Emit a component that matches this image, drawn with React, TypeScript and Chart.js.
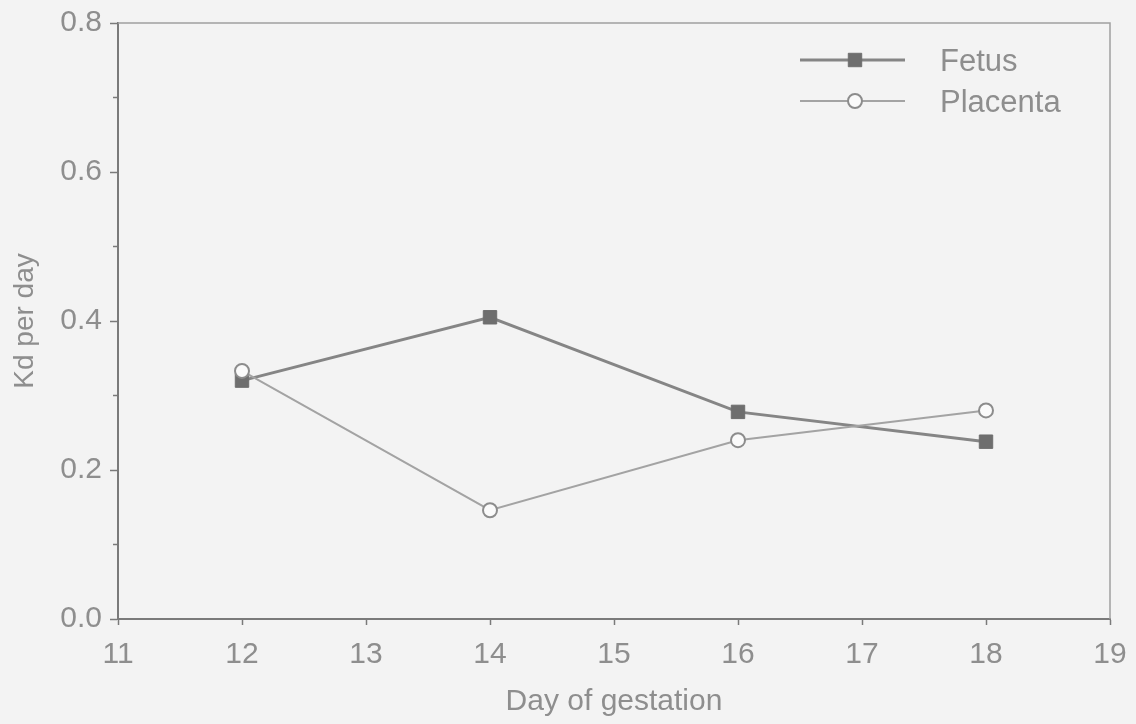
import React, { useEffect, useRef } from "react";
import { Chart, registerables } from "chart.js";

Chart.register(...registerables);

const days = [12, 14, 16, 18];
const fetus = [0.32, 0.405, 0.278, 0.238];
const placenta = [0.333, 0.146, 0.24, 0.28];
const xTicks = [11, 12, 13, 14, 15, 16, 17, 18, 19];
const yMinorTicks = [0.1, 0.3, 0.5, 0.7];
const seriesNames = ["Fetus", "Placenta"];

const FONT = "'Liberation Sans', Arial, Helvetica, sans-serif";
const TEXT = "#8e8e8e";
const AXIS = "#7a7a7a";

const framePlugin = {
  id: "frame",
  beforeDatasetsDraw(chart: any) {
    const { ctx, chartArea } = chart;
    const { left, right, top, bottom } = chartArea;
    ctx.save();
    ctx.strokeStyle = "#a0a0a0";
    ctx.lineWidth = 1.5;
    ctx.beginPath();
    ctx.moveTo(left, top);
    ctx.lineTo(right, top);
    ctx.lineTo(right, bottom);
    ctx.stroke();
    const ys = chart.scales.y;
    ctx.strokeStyle = AXIS;
    ctx.lineWidth = 1.5;
    yMinorTicks.forEach((v) => {
      const y = ys.getPixelForValue(v);
      ctx.beginPath();
      ctx.moveTo(left - 5, y);
      ctx.lineTo(left, y);
      ctx.stroke();
    });
    ctx.restore();
  },
};

const legendPlugin = {
  id: "insideLegend",
  afterDraw(chart: any) {
    const { ctx } = chart;
    const items = chart.data.datasets;
    const rows = [60, 101];
    ctx.save();
    items.forEach((ds: any, i: number) => {
      const y = rows[i];
      ctx.strokeStyle = ds.borderColor;
      ctx.lineWidth = ds.borderWidth;
      ctx.beginPath();
      ctx.moveTo(800, y);
      ctx.lineTo(905, y);
      ctx.stroke();
      ctx.fillStyle = ds.pointBackgroundColor;
      ctx.strokeStyle = ds.pointBorderColor;
      ctx.lineWidth = ds.pointBorderWidth;
      if (ds.pointStyle === "rect") {
        const s = ds.pointRadius * Math.SQRT1_2;
        ctx.beginPath();
        ctx.rect(855 - s, y - s, 2 * s, 2 * s);
        ctx.fill();
        ctx.stroke();
      } else {
        ctx.beginPath();
        ctx.arc(855, y, ds.pointRadius, 0, Math.PI * 2);
        ctx.fill();
        ctx.stroke();
      }
      ctx.fillStyle = TEXT;
      ctx.font = `31px ${FONT}`;
      ctx.textAlign = "left";
      ctx.textBaseline = "middle";
      ctx.fillText(ds.label, 940, y + 2);
    });
    ctx.restore();
  },
};

export default function App() {
  const ref = useRef<HTMLCanvasElement | null>(null);

  useEffect(() => {
    if (!ref.current) return;
    const chart = new Chart(ref.current, {
      type: "line",
      data: {
        datasets: [
          {
            label: seriesNames[0],
            data: days.map((d, i) => ({ x: d, y: fetus[i] })),
            borderColor: "#858585",
            borderWidth: 3,
            pointStyle: "rect",
            pointRadius: 9.5,
            pointBackgroundColor: "#6e6e6e",
            pointBorderColor: "#6e6e6e",
            pointBorderWidth: 1,
            order: 2,
          },
          {
            label: seriesNames[1],
            data: days.map((d, i) => ({ x: d, y: placenta[i] })),
            borderColor: "#a3a3a3",
            borderWidth: 2,
            pointStyle: "circle",
            pointRadius: 7,
            pointBackgroundColor: "#fafafa",
            pointBorderColor: "#8c8c8c",
            pointBorderWidth: 2,
            order: 1,
          },
        ] as any,
      },
      options: {
        responsive: false,
        animation: false,
        layout: { padding: { top: 23, right: 26, left: 0, bottom: 0 } },
        plugins: { legend: { display: false }, tooltip: { enabled: false } },
        scales: {
          x: {
            type: "linear",
            min: 11,
            max: 19,
            afterBuildTicks: (scale: any) => {
              scale.ticks = xTicks.map((v) => ({ value: v }));
            },
            afterFit: (scale: any) => {
              scale.height = 105;
              scale.paddingRight = 0;
              scale.paddingLeft = 0;
            },
            ticks: {
              color: TEXT,
              font: { family: FONT, size: 30 },
              padding: 12,
              maxRotation: 0,
            },
            grid: {
              drawOnChartArea: false,
              tickLength: 6,
              tickColor: AXIS,
              tickWidth: 1.5,
            },
            border: { color: AXIS, width: 2 },
            title: {
              display: true,
              text: "Day of gestation",
              color: TEXT,
              font: { family: FONT, size: 30 },
              padding: { top: 0, bottom: 4 },
            },
          },
          y: {
            type: "linear",
            min: 0,
            max: 0.8,
            ticks: {
              stepSize: 0.2,
              color: TEXT,
              font: { family: FONT, size: 30 },
              padding: 8,
              callback: (v: any) => Number(v).toFixed(1),
            },
            afterFit: (scale: any) => {
              scale.width = 118;
              scale.paddingTop = 0;
              scale.paddingBottom = 0;
            },
            grid: {
              drawOnChartArea: false,
              tickLength: 8,
              tickColor: AXIS,
              tickWidth: 1.5,
            },
            border: { color: AXIS, width: 2 },
            title: {
              display: true,
              text: "Kd per day",
              color: TEXT,
              font: { family: FONT, size: 28 },
              padding: { top: 8, bottom: 0 },
            },
          },
        },
      } as any,
      plugins: [framePlugin, legendPlugin],
    });
    return () => chart.destroy();
  }, []);

  return (
    <div
      style={{
        position: "fixed",
        left: 0,
        top: 0,
        width: 1136,
        height: 724,
        background: "#f3f3f3",
      }}
    >
      <canvas ref={ref} width={1136} height={724} style={{ display: "block" }} />
    </div>
  );
}
